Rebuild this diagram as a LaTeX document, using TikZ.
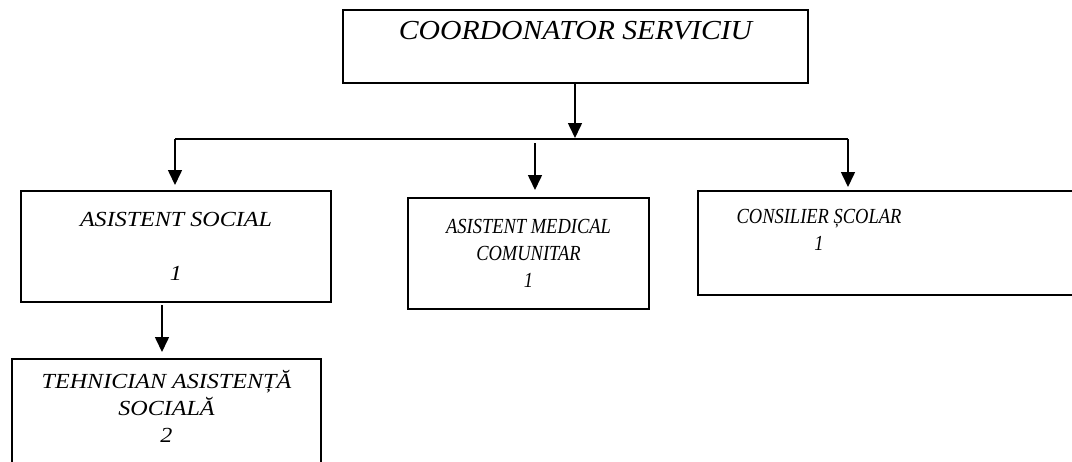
\documentclass[tikz,border=0pt]{standalone}
\usepackage{fontspec}
\setmainfont{Liberation Serif}
\newfontfamily\topfont[FakeStretch=1.08]{Liberation Serif}
\newfontfamily\widefont[FakeStretch=1.12]{Liberation Serif}
\newfontfamily\narrowfont[FakeStretch=0.86]{Liberation Serif}
\usetikzlibrary{arrows.meta}
\tikzset{
  orgbox/.style={
    draw=black,
    line width=2pt,
    inner sep=0pt,
    outer sep=0pt,
    align=center,
    anchor=north west
  },
  topbig/.style={
    font=\topfont\itshape\fontsize{27.5}{33}\selectfont
  },
  widetext/.style={
    font=\widefont\itshape\fontsize{21.5}{27}\selectfont
  },
  narrowtext/.style={
    font=\narrowfont\itshape\fontsize{21.5}{27}\selectfont
  },
  orgarrow/.style={
    -{Triangle[length=15pt,width=14pt]},
    line width=1.6pt
  },
  busline/.style={
    line width=1.6pt
  }
}

\begin{document}
\begin{tikzpicture}[x=1pt,y=-1pt]
  \useasboundingbox (0,0) rectangle (1072,461);
  \fill[white] (0,0) rectangle (1072,461);
  \clip (0,0) rectangle (1072,461);
  % boxes
  \node[orgbox, topbig, minimum width=465pt, minimum height=73pt] (coord) at (343,10)
    {COORDONATOR SERVICIU\\\mbox{}};
  \node[orgbox, widetext, minimum width=310pt, minimum height=111pt] (social) at (21,191)
    {ASISTENT SOCIAL\\\mbox{}\\1};
  \node[orgbox, narrowtext, minimum width=241pt, minimum height=111pt] (medical) at (408,198)
    {ASISTENT MEDICAL\\COMUNITAR\\1};
  \node[orgbox, minimum width=420pt, minimum height=104pt] (consilier) at (698,191) {};
  \node[narrowtext, align=center, inner sep=0pt, anchor=north] (consilierText) at (819,209)
    {CONSILIER ȘCOLAR\\1};
  \node[orgbox, widetext, minimum width=309pt, minimum height=122pt] (tech) at (12,359)
    {TEHNICIAN ASISTENȚĂ\\SOCIALĂ\\2\\\mbox{}};
  % connectors
  \coordinate (hub) at (575,139);
  \coordinate (busL) at (175,139);
  \coordinate (busR) at (848,139);
  \coordinate (medtop) at (535,143);
  \coordinate (socbot) at (162,305);
  \draw[orgarrow, shorten >=1pt] (coord.south -| hub) -- (hub);
  \draw[busline] (busL) -- (busR);
  \draw[orgarrow, shorten >=6pt] (busL) -- (busL |- social.north);
  \draw[orgarrow, shorten >=4pt] (busR) -- (busR |- consilier.north);
  \draw[orgarrow, shorten >=8pt] (medtop) -- (medtop |- medical.north);
  \draw[orgarrow, shorten >=7pt] (socbot) -- (socbot |- tech.north);
\end{tikzpicture}
\end{document}
